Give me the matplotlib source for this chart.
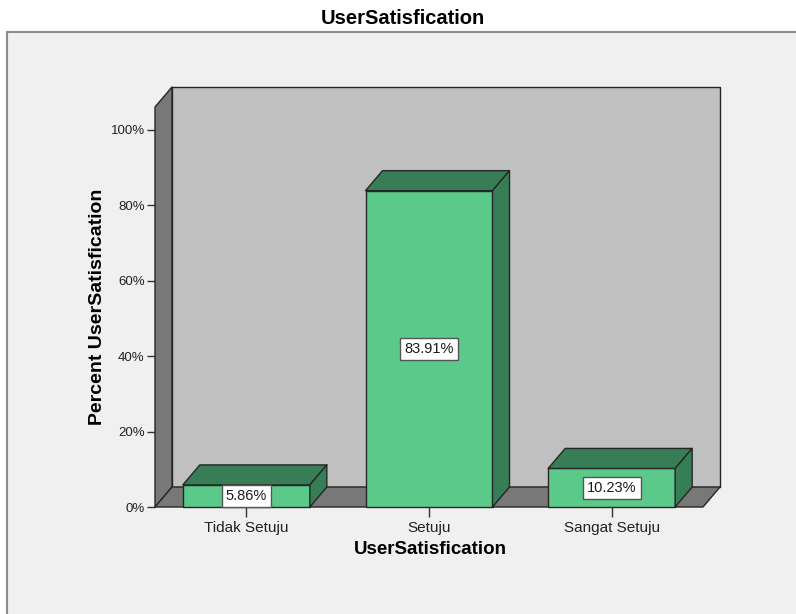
import matplotlib
matplotlib.use("Agg")
import matplotlib.pyplot as plt
from matplotlib.patches import Polygon, Rectangle

categories = ["Tidak Setuju", "Setuju", "Sangat Setuju"]
percents = [5.86, 83.91, 10.23]
value_labels = ["5.86%", "83.91%", "10.23%"]
yticks = [0, 20, 40, 60, 80, 100]
ytick_labels = ["0%", "20%", "40%", "60%", "80%", "100%"]

W, H, DPI = 796, 614, 100
fig = plt.figure(figsize=(W / DPI, H / DPI), dpi=DPI, facecolor="white")
FONT = ["Liberation Sans", "DejaVu Sans"]

# outer chart frame
frame = Rectangle((7 / W, -0.02), 1.0, (614 - 32) / H + 0.02,
                  transform=fig.transFigure, facecolor="#F0F0F0",
                  edgecolor="#8C8C8C", linewidth=1.5, zorder=-10)
fig.patches.append(frame)
fig.text(403 / W, 1 - 18 / H, "UserSatisfication", ha="center", va="center",
         fontsize=14.5, fontweight="bold", family=FONT)

# axes = front plane of the 3D box
left_px, right_px, bottom_px, top_px = 155, 703, 507, 107
ax = fig.add_axes([left_px / W, 1 - bottom_px / H, (right_px - left_px) / W,
                   (bottom_px - top_px) / H])
ax.set_zorder(1)
ax.patch.set_visible(False)
for s in ax.spines.values():
    s.set_visible(False)
px_per_pct = (507 - 130) / 100.0
ytop = (bottom_px - top_px) / px_per_pct
ax.set_xlim(-0.5, len(categories) - 0.5)
ax.set_ylim(0, ytop)
px_per_x = (right_px - left_px) / len(categories)
DX = 17 / px_per_x
DY = 20 / px_per_pct

edge = "#262626"
wall_gray = "#787878"
back_gray = "#C0C0C0"
x0, x1 = -0.5, len(categories) - 0.5

def poly(pts, fc, z):
    ax.add_patch(Polygon(pts, closed=True, facecolor=fc, edgecolor=edge,
                         linewidth=1.0, joinstyle="round", clip_on=False, zorder=z))

# back wall, left wall, floor
poly([(x0 + DX, DY), (x1 + DX, DY), (x1 + DX, ytop + DY), (x0 + DX, ytop + DY)], back_gray, 1)
poly([(x0, 0), (x0, ytop), (x0 + DX, ytop + DY), (x0 + DX, DY)], wall_gray, 2)
poly([(x0, 0), (x1, 0), (x1 + DX, DY), (x0 + DX, DY)], wall_gray, 2)

front_c = "#5BC98A"
dark_c = "#377D55"
bw = 127 / px_per_x
for i, (v, lab) in enumerate(zip(percents, value_labels)):
    l, r = i - bw / 2, i + bw / 2
    poly([(l, 0), (r, 0), (r, v), (l, v)], front_c, 3)
    poly([(l, v), (r, v), (r + DX, v + DY), (l + DX, v + DY)], dark_c, 3)
    poly([(r, 0), (r + DX, DY), (r + DX, v + DY), (r, v)], dark_c, 3)
    ax.text(i, v / 2, lab, ha="center", va="center", fontsize=10.5, family=FONT,
            color="#1A1A1A", zorder=5,
            bbox=dict(boxstyle="square,pad=0.28", facecolor="white",
                      edgecolor="#555555", linewidth=1.0))

ax.set_yticks(yticks)
ax.set_yticklabels(ytick_labels, family=FONT, fontsize=9.5, color="#222222")
ax.set_xticks(range(len(categories)))
ax.set_xticklabels(categories, family=FONT, fontsize=11, color="#222222")
ax.tick_params(axis="y", length=6, width=1, color="#333333", pad=1.5)
ax.tick_params(axis="x", length=7, width=1, color="#333333", pad=3)

fig.text(97 / W, 1 - 307 / H, "Percent UserSatisfication", rotation=90,
         ha="center", va="center", fontsize=14, fontweight="bold", family=FONT)
fig.text(430 / W, 1 - 550 / H, "UserSatisfication", ha="center", va="center",
         fontsize=13.5, fontweight="bold", family=FONT)

fig.savefig("out.png", dpi=DPI, facecolor="white")
